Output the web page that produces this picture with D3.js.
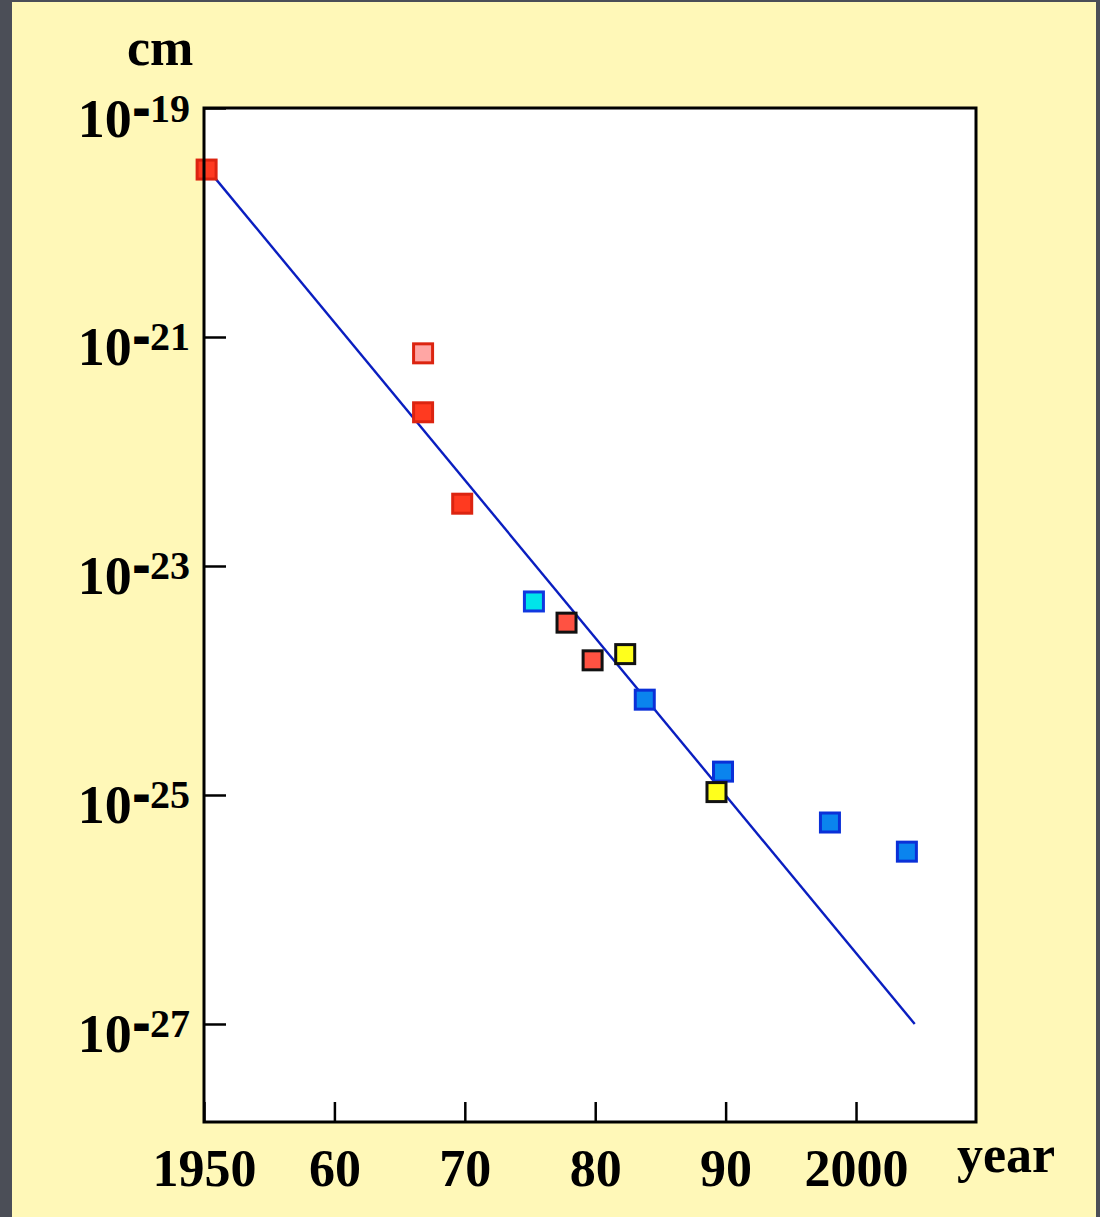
<!DOCTYPE html>
<html>
<head>
<meta charset="utf-8">
<script src="https://cdn.jsdelivr.net/npm/d3@7"></script>
<style>
  body { margin: 0; background: #4b4e57; }
  svg { display: block; }
  .lbl { font-family: "Liberation Serif", "Times New Roman", serif; font-weight: bold; fill: #000; }
</style>
</head>
<body>
<div id="chart"></div>
<script>
// data
const years = [1950.2, 1966.8, 1966.8, 1969.8, 1975.3, 1977.8, 1979.8, 1982.3, 1983.8, 1989.8, 1989.3, 1998.0, 2003.9];
const values = [2.9e-20, 7.2e-22, 2.2e-22, 3.5e-23, 4.9e-24, 3.2e-24, 1.5e-24, 1.7e-24, 6.8e-25, 1.6e-25, 1.06e-25, 5.75e-26, 3.2e-26];
const groups = ["red", "pink", "red", "red", "cyan", "redBlack", "redBlack", "yellow", "blue", "blue", "yellow", "blue", "blue"];

const fitYears = [1950.2, 2004.5];
const fitValues = [3.0e-20, 1.0e-27];

const xTicks = [1950, 1960, 1970, 1980, 1990, 2000];
const xTickLabels = ["1950", "60", "70", "80", "90", "2000"];
const yTicks = [1e-19, 1e-21, 1e-23, 1e-25, 1e-27];
const yTickExps = ["19", "21", "23", "25", "27"];

// styles per group
const groupStyle = {
  red: { fill: "#ff3a20", stroke: "#dc2410" },
  pink: { fill: "#ffa6a4", stroke: "#dc2410" },
  cyan: { fill: "#00e4ea", stroke: "#1038e0" },
  redBlack: { fill: "#ff5242", stroke: "#111111" },
  yellow: { fill: "#ffff1c", stroke: "#111111" },
  blue: { fill: "#0a84ee", stroke: "#0a30d8" }
};

// metrics
const width = 1100;
const height = 1217;
const marginLeft = 204;
const marginTop = 108;
const chartWidth = 772;
const chartHeight = 1014;

const svg = d3.select("#chart")
  .append("svg")
  .attr("width", width)
  .attr("height", height);

// background panel
svg.append("rect")
  .attr("x", 12).attr("y", 2)
  .attr("width", 1084).attr("height", height)
  .attr("fill", "#fff8b8");

const g = svg.append("g")
  .attr("transform", `translate(${marginLeft}, ${marginTop})`);

g.append("rect")
  .attr("width", chartWidth)
  .attr("height", chartHeight)
  .attr("fill", "#fff");

// scales
const xScale = d3.scaleLinear()
  .domain([1950, 2009.2])
  .range([0, chartWidth]);

const yScale = d3.scaleLog()
  .domain([1e-19, Math.pow(10, -27.856)])
  .range([0, chartHeight]);

// axes
const xAxis = d3.axisBottom(xScale)
  .tickValues(xTicks)
  .tickSizeInner(-20)
  .tickSizeOuter(0)
  .tickFormat((d, i) => xTickLabels[i]);

const yAxis = d3.axisLeft(yScale)
  .tickValues(yTicks)
  .tickSizeInner(-22)
  .tickSizeOuter(0)
  .tickFormat("");

const gx = g.append("g")
  .attr("transform", `translate(0, ${chartHeight})`)
  .call(xAxis);
gx.select(".domain").remove();
gx.selectAll(".tick line").attr("stroke", "#000").attr("stroke-width", 2.5);
gx.selectAll(".tick text")
  .attr("class", "lbl")
  .attr("y", 64)
  .attr("dy", 0)
  .style("font-size", "52px")
  .attr("font-family", null);

const gy = g.append("g").call(yAxis);
gy.select(".domain").remove();
gy.selectAll(".tick line").attr("stroke", "#000").attr("stroke-width", 2.5);
gy.selectAll(".tick text").remove();
gy.selectAll(".tick").each(function (d, i) {
  const t = d3.select(this).append("text")
    .attr("class", "lbl")
    .attr("text-anchor", "end")
    .attr("x", -14)
    .attr("y", 28)
    .attr("font-family", null);
  t.append("tspan").style("font-size", "54px").text("10");
  t.append("tspan").style("font-size", "40px").attr("dy", -15).attr("dx", 3)
    .attr("stroke", "#000").attr("stroke-width", 4).text("-");
  t.append("tspan").style("font-size", "40px").attr("dx", 2).text(yTickExps[i]);
});

// fit line
const line = d3.line()
  .x((d) => xScale(d[0]))
  .y((d) => yScale(d[1]));

g.append("path")
  .datum(fitYears.map((y, i) => [y, fitValues[i]]))
  .attr("d", line)
  .attr("fill", "none")
  .attr("stroke", "#0a1ec0")
  .attr("stroke-width", 2.4);

// points
const size = 19;
g.append("g")
  .selectAll("rect")
  .data(years.map((y, i) => ({ year: y, value: values[i], group: groups[i] })))
  .join("rect")
  .attr("x", (d) => xScale(d.year) - size / 2)
  .attr("y", (d) => yScale(d.value) - size / 2)
  .attr("width", size)
  .attr("height", size)
  .attr("fill", (d) => groupStyle[d.group].fill)
  .attr("stroke", (d) => groupStyle[d.group].stroke)
  .attr("stroke-width", 3);

// frame
g.append("rect")
  .attr("width", chartWidth)
  .attr("height", chartHeight)
  .attr("fill", "none")
  .attr("stroke", "#000")
  .attr("stroke-width", 3);

// unit labels
svg.append("text")
  .attr("class", "lbl")
  .attr("x", 127).attr("y", 65)
  .style("font-size", "52px")
  .text("cm");

svg.append("text")
  .attr("class", "lbl")
  .attr("x", 957).attr("y", 1172)
  .style("font-size", "52px")
  .text("year");
</script>
</body>
</html>
